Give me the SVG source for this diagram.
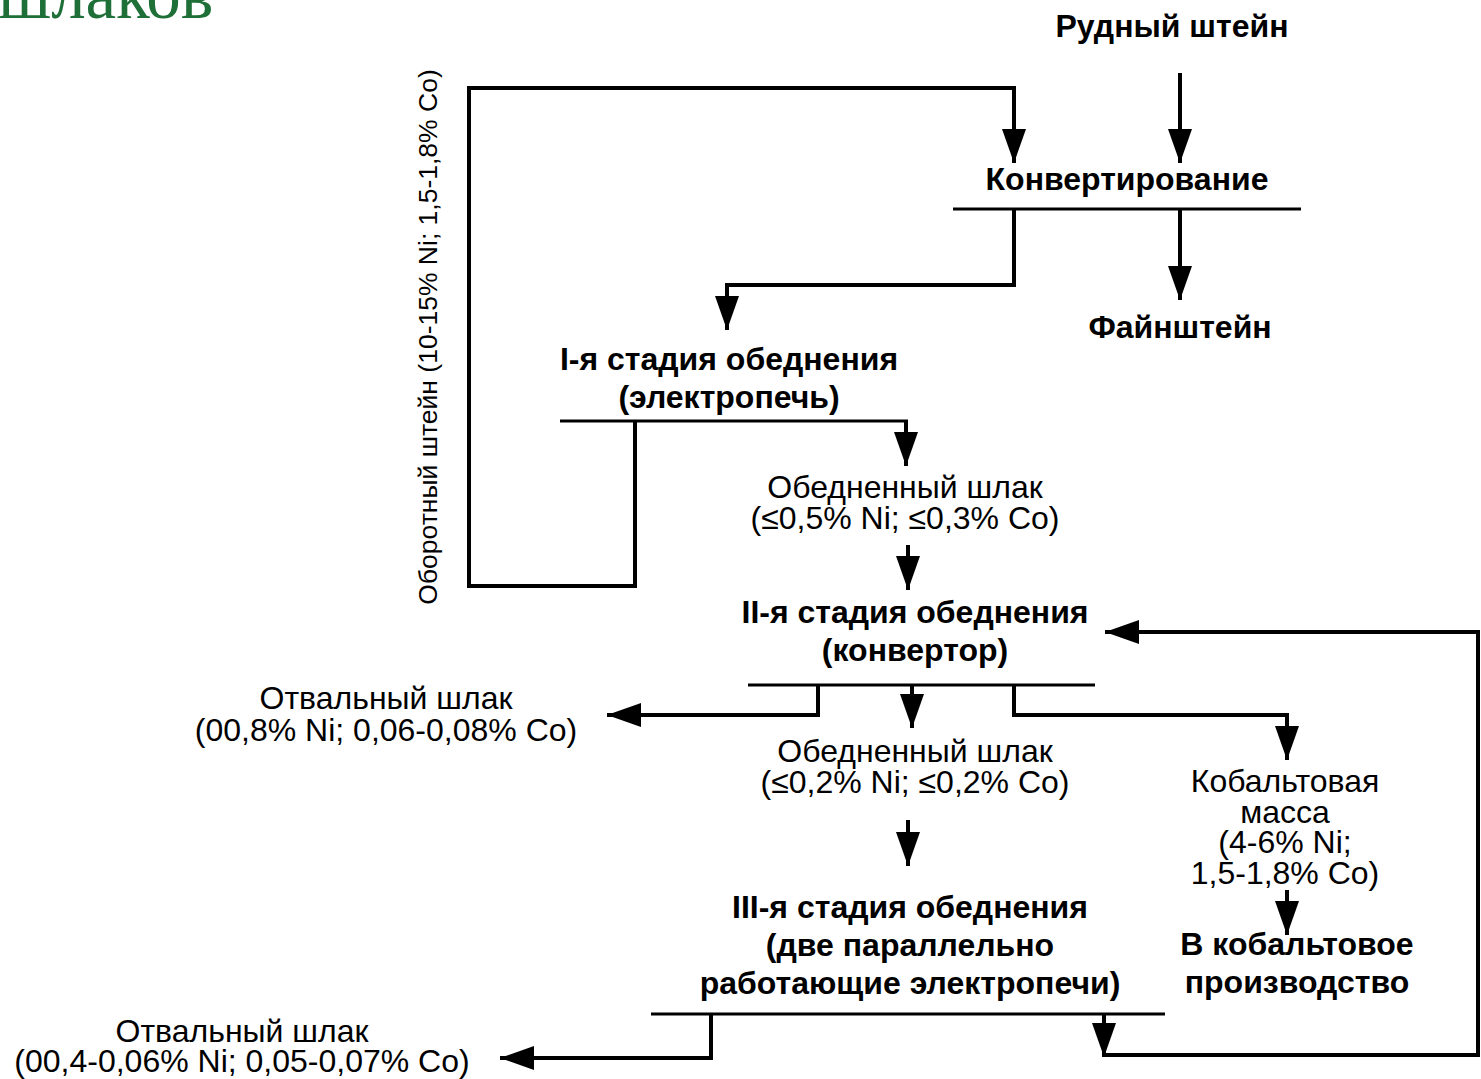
<svg xmlns="http://www.w3.org/2000/svg" width="1481" height="1079" viewBox="0 0 1481 1079">
<defs>
<marker id="ah" viewBox="0 0 34 24" refX="34" refY="12" markerWidth="34" markerHeight="24" markerUnits="userSpaceOnUse" orient="auto">
<polygon points="0,0 34,12 0,24" fill="#000"/>
</marker>
<style>
.b{font-family:"Liberation Sans",Arial,sans-serif;font-weight:bold;font-size:32px;text-anchor:middle;fill:#000}
.r{font-family:"Liberation Sans",Arial,sans-serif;font-size:32px;text-anchor:middle;fill:#000}
.c{fill:none;stroke:#000;stroke-width:4;stroke-linejoin:miter}
.a{marker-end:url(#ah)}
.bar{stroke:#000;stroke-width:3}
</style>
</defs>
<rect width="1481" height="1079" fill="#fff"/>
<text x="-2" y="18" font-family="'Liberation Serif','Times New Roman',serif" font-size="69" fill="#1F7038">шлаков</text>

<g id="n-ore"><text class="b" x="1172" y="37">Рудный штейн</text></g>
<g id="n-conv"><text class="b" x="1127" y="190">Конвертирование</text><line class="bar" x1="953" y1="209" x2="1301" y2="209"/></g>
<g id="n-fine"><text class="b" x="1180" y="338">Файнштейн</text></g>
<g id="n-st1"><text class="b" x="729" y="370">I-я стадия обеднения</text><text class="b" x="729" y="408">(электропечь)</text><line class="bar" x1="560" y1="421" x2="908" y2="421"/></g>
<g id="n-recycle"><text class="r" transform="translate(437,337) rotate(-90)" style="font-size:26.5px">Оборотный штейн (10-15% Ni; 1,5-1,8% Co)</text></g>
<g id="n-slag1"><text class="r" x="905" y="498">Обедненный шлак</text><text class="r" x="905" y="529">(≤0,5% Ni; ≤0,3% Co)</text></g>
<g id="n-st2"><text class="b" x="915" y="623">II-я стадия обеднения</text><text class="b" x="915" y="661">(конвертор)</text><line class="bar" x1="748" y1="685" x2="1095" y2="685"/></g>
<g id="n-dump1"><text class="r" x="386" y="709">Отвальный шлак</text><text class="r" x="386" y="741">(00,8% Ni; 0,06-0,08% Co)</text></g>
<g id="n-slag2"><text class="r" x="915" y="762">Обедненный шлак</text><text class="r" x="915" y="793">(≤0,2% Ni; ≤0,2% Co)</text></g>
<g id="n-comass"><text class="r" x="1285" y="792">Кобальтовая</text><text class="r" x="1285" y="823">масса</text><text class="r" x="1285" y="853">(4-6% Ni;</text><text class="r" x="1285" y="884">1,5-1,8% Co)</text></g>
<g id="n-coprod"><text class="b" x="1297" y="955">В кобальтовое</text><text class="b" x="1297" y="993">производство</text></g>
<g id="n-st3"><text class="b" x="910" y="918">III-я стадия обеднения</text><text class="b" x="910" y="956">(две параллельно</text><text class="b" x="910" y="994">работающие электропечи)</text><line class="bar" x1="651" y1="1014" x2="1165" y2="1014"/></g>
<g id="n-dump2"><text class="r" x="242" y="1042">Отвальный шлак</text><text class="r" x="242" y="1072">(00,4-0,06% Ni; 0,05-0,07% Co)</text></g>

<g id="connectors">
<path class="c a" d="M1180,73 V163"/>
<path class="c a" d="M469,88 H1014 V163"/>
<path class="c a" d="M1014,209 V285 H727 V330"/>
<path class="c a" d="M1180,209 V300"/>
<path class="c a" d="M906,421 V466"/>
<path class="c" d="M635,421 V586 H469 V86"/>
<path class="c a" d="M908,545 V590"/>
<path class="c a" d="M1104,1055 H1478 V632 H1105"/>
<path class="c a" d="M818,685 V715 H607"/>
<path class="c a" d="M912,685 V728"/>
<path class="c a" d="M1014,685 V715 H1287 V760"/>
<path class="c a" d="M908,820 V866"/>
<path class="c a" d="M1287,890 V935"/>
<path class="c a" d="M711,1014 V1058 H500"/>
<path class="c a" d="M1104,1014 V1057"/>
</g>
</svg>
